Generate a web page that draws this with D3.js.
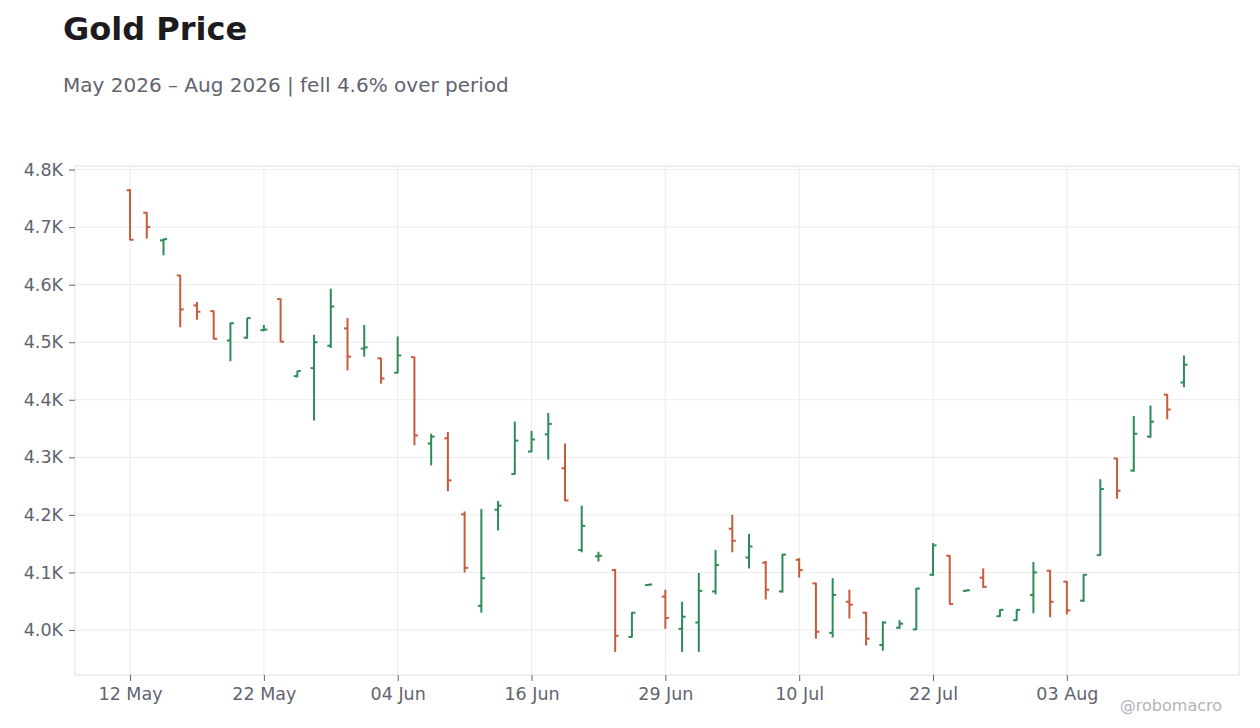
<!DOCTYPE html>
<html>
<head>
<meta charset="utf-8">
<script src="https://cdn.jsdelivr.net/npm/d3@7"></script>
<style>
  body { margin: 0; background: #fff; }
  svg { display: block; font-family: "DejaVu Sans", Verdana, sans-serif; }
</style>
</head>
<body>
<svg id="chart" width="1260" height="728"></svg>
<script>
// trading days, May - Aug 2026 (holidays skipped)
var dates = [
  "2026-05-12","2026-05-13","2026-05-14","2026-05-15","2026-05-18","2026-05-19","2026-05-20","2026-05-21",
  "2026-05-22","2026-05-26","2026-05-27","2026-05-28","2026-05-29","2026-06-01","2026-06-02","2026-06-03",
  "2026-06-04","2026-06-05","2026-06-08","2026-06-09","2026-06-10","2026-06-11","2026-06-12","2026-06-15",
  "2026-06-16","2026-06-17","2026-06-18","2026-06-22","2026-06-23","2026-06-24","2026-06-25","2026-06-26",
  "2026-06-29","2026-06-30","2026-07-01","2026-07-02","2026-07-06","2026-07-07","2026-07-08","2026-07-09",
  "2026-07-10","2026-07-13","2026-07-14","2026-07-15","2026-07-16","2026-07-17","2026-07-20","2026-07-21",
  "2026-07-22","2026-07-23","2026-07-24","2026-07-27","2026-07-28","2026-07-29","2026-07-30","2026-07-31",
  "2026-08-03","2026-08-04","2026-08-05","2026-08-06","2026-08-07","2026-08-10","2026-08-11","2026-08-12"
];

var opens = [
  4764,4725,4677,4616,4564,4554,4503,4508,4521,4575,4441,4455,4494,4524,4489,4472,
  4447,4474,4324,4333,4201,4042,4209,4271,4310,4340,4281,4139,4128,4104,3988,4078,
  4058,4002,4013,4067,4176,4126,4117,4067,4122,4081,3995,4049,4030,3974,4004,4001,
  4096,4129,4068,4091,4024,4017,4061,4103,4084,4051,4130,4298,4277,4336,4409,4430
];
var highs = [
  4766,4726,4680,4617,4570,4555,4534,4542,4530,4576,4450,4513,4593,4542,4530,4473,
  4510,4475,4341,4344,4206,4210,4224,4362,4346,4377,4324,4216,4136,4106,4031,4080,
  4070,4049,4099,4139,4200,4167,4120,4132,4125,4082,4090,4070,4031,4015,4017,4073,
  4151,4130,4070,4107,4036,4036,4118,4104,4085,4097,4262,4299,4372,4390,4410,4477
];
var lows = [
  4677,4680,4651,4526,4539,4505,4467,4506,4519,4500,4439,4364,4490,4451,4475,4428,
  4446,4321,4286,4241,4100,4030,4173,4270,4309,4296,4224,4135,4119,3962,3987,4077,
  4002,3962,3962,4062,4135,4107,4053,4065,4091,3985,3987,4020,3973,3964,4002,4000,
  4094,4044,4067,4073,4023,4016,4029,4022,4027,4049,4129,4228,4275,4334,4366,4422
];
var closes = [
  4678,4700,4679,4557,4553,4506,4533,4542,4522,4501,4450,4500,4562,4475,4491,4437,
  4477,4338,4336,4260,4108,4090,4216,4329,4331,4358,4225,4181,4129,3990,4030,4079,
  4021,4023,4068,4113,4155,4145,4070,4131,4104,3997,4061,4044,3985,4013,4011,4072,
  4147,4045,4069,4075,4035,4035,4100,4049,4034,4096,4245,4242,4341,4362,4383,4461
];

// every 8th trading day gets a label
var tickIdx = [0, 8, 16, 24, 32, 40, 48, 56];
var yTicks = [4000, 4100, 4200, 4300, 4400, 4500, 4600, 4700, 4800];

var upColor = "#2e8b57", downColor = "#c65b3c";
var textColor = "#5f6470";

var svg = d3.select("#chart");
var plotL = 75, plotR = 1239, plotT = 166, plotB = 675;

var parse = d3.timeParse("%Y-%m-%d");
var fmtDate = d3.timeFormat("%d %b");

var x = d3.scaleLinear()
  .domain([-3.29, dates.length - 1 + 3.29])
  .range([plotL, plotR]);

var lo = d3.min(lows), hi = d3.max(highs), pad = (hi - lo) * 0.05;
var y = d3.scaleLinear()
  .domain([lo - pad, hi + pad])
  .range([plotB, plotT]);

// title
svg.append("text")
  .attr("x", 63).attr("y", 40)
  .attr("font-size", 32).attr("font-weight", "bold")
  .attr("fill", "#1b1b20")
  .text("Gold Price");

var change = (closes[closes.length - 1] / closes[0] - 1) * 100;
svg.append("text")
  .attr("x", 63).attr("y", 92)
  .attr("font-size", 20)
  .attr("fill", textColor)
  .text("May 2026 \u2013 Aug 2026 | " + (change < 0 ? "fell " : "rose ") + Math.abs(change).toFixed(1) + "% over period");

// grid
var grid = svg.append("g");
grid.selectAll(".gy").data(yTicks).enter().append("line")
  .attr("x1", plotL).attr("x2", plotR)
  .attr("y1", function(d) { return y(d); })
  .attr("y2", function(d) { return y(d); })
  .attr("stroke", "#ececec").attr("stroke-width", 1);
grid.selectAll(".gx").data(tickIdx).enter().append("line")
  .attr("x1", function(d) { return x(d); })
  .attr("x2", function(d) { return x(d); })
  .attr("y1", plotT).attr("y2", plotB)
  .attr("stroke", "#ececec").attr("stroke-width", 1);

svg.append("rect")
  .attr("x", plotL).attr("y", plotT)
  .attr("width", plotR - plotL).attr("height", plotB - plotT)
  .attr("fill", "none").attr("stroke", "#e0e0e0").attr("stroke-width", 1);

// axes
var yAxis = d3.axisLeft(y)
  .tickValues(yTicks)
  .tickSize(6).tickPadding(6)
  .tickFormat(function(d) { return d3.format(".1f")(d / 1000) + "K"; });
var gy = svg.append("g").attr("transform", "translate(" + plotL + ",0)").call(yAxis);

var xAxis = d3.axisBottom(x)
  .tickValues(tickIdx)
  .tickSize(6).tickPadding(7)
  .tickFormat(function(i) { return fmtDate(parse(dates[i])); });
var gx = svg.append("g").attr("transform", "translate(0," + plotB + ")").call(xAxis);

[gx, gy].forEach(function(g) {
  g.select(".domain").remove();
  g.selectAll(".tick line").attr("stroke", textColor);
  g.selectAll(".tick text")
    .attr("fill", textColor)
    .attr("font-size", 17.5)
    .attr("font-family", "DejaVu Sans, sans-serif");
});

// OHLC bars
var bars = svg.append("g").selectAll("g.bar")
  .data(d3.range(dates.length))
  .enter().append("g")
  .attr("stroke", function(i) { return closes[i] >= opens[i] ? upColor : downColor; })
  .attr("stroke-width", 2);

bars.append("line")
  .attr("x1", function(i) { return x(i); })
  .attr("x2", function(i) { return x(i); })
  .attr("y1", function(i) { return y(highs[i]); })
  .attr("y2", function(i) { return y(lows[i]); });
bars.append("line")
  .attr("x1", function(i) { return x(i) - 3.5; })
  .attr("x2", function(i) { return x(i); })
  .attr("y1", function(i) { return y(opens[i]); })
  .attr("y2", function(i) { return y(opens[i]); });
bars.append("line")
  .attr("x1", function(i) { return x(i); })
  .attr("x2", function(i) { return x(i) + 3.5; })
  .attr("y1", function(i) { return y(closes[i]); })
  .attr("y2", function(i) { return y(closes[i]); });

// watermark
svg.append("text")
  .attr("x", 1222).attr("y", 711)
  .attr("text-anchor", "end")
  .attr("font-size", 16)
  .attr("fill", "#b4b4bb")
  .text("@robomacro");
</script>
</body>
</html>
